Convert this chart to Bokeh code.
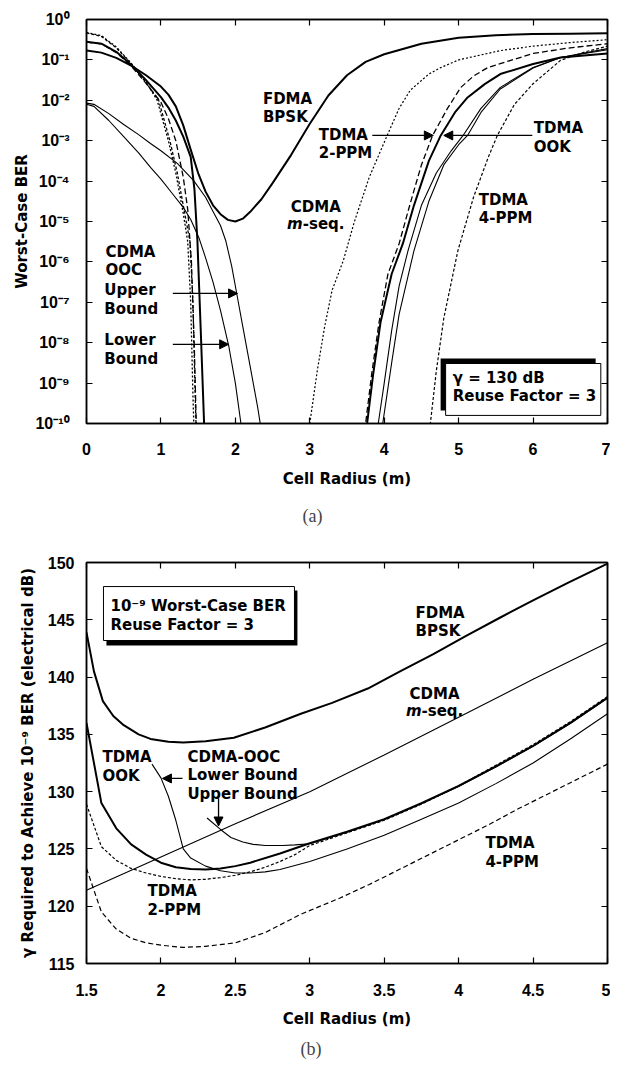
from bokeh.plotting import figure
from bokeh.models import (FixedTicker, CustomJSTickFormatter, LinearAxis, LogAxis,
                          Arrow, NormalHead, Title)
from bokeh.layouts import column
from bokeh.core.properties import value
from bokeh.embed import file_html
from bokeh.resources import INLINE

# ------------------------------------------------------------------ data (a)
a_x_ticks = [0, 1, 2, 3, 4, 5, 6, 7]
a_x_labels = ["0", "1", "2", "3", "4", "5", "6", "7"]
a_y_ticks = [1e0, 1e-1, 1e-2, 1e-3, 1e-4, 1e-5, 1e-6, 1e-7, 1e-8, 1e-9, 1e-10]
a_y_labels = ["10\u2070", "10\u207b\u00b9", "10\u207b\u00b2", "10\u207b\u00b3", "10\u207b\u2074",
              "10\u207b\u2075", "10\u207b\u2076", "10\u207b\u2077", "10\u207b\u2078",
              "10\u207b\u2079", "10\u207b\u00b9\u2070"]

# log10(worst-case BER)
fdma_x = [0, 0.2, 0.4, 0.6, 0.8, 1.0, 1.1, 1.2, 1.3, 1.4, 1.5, 1.6, 1.7, 1.8, 1.9, 2.0, 2.1, 2.2,
          2.35, 2.5, 2.75, 3.0, 3.25, 3.5, 3.75, 4.0, 4.5, 5.0, 5.5, 6.0, 6.5, 7.0]
fdma_e = [-0.77, -0.82, -0.95, -1.14, -1.38, -1.66, -1.86, -2.15, -2.62, -3.22, -3.8, -4.26,
          -4.6, -4.82, -4.96, -5.0, -4.93, -4.76, -4.45, -4.05, -3.35, -2.58, -1.88, -1.38,
          -1.05, -0.86, -0.6, -0.45, -0.39, -0.36, -0.35, -0.34]

ook_l_x = [0, 0.2, 0.4, 0.6, 0.8, 1.0, 1.1, 1.2, 1.3, 1.4, 1.45, 1.49, 1.535, 1.58, 1.6]
ook_l_e = [-0.55, -0.6, -0.8, -1.12, -1.5, -1.92, -2.18, -2.5, -2.9, -3.4, -4.2, -5.47, -7.7, -10.0, -11.0]
ook_r_x = [3.74, 3.77, 3.85, 3.95, 4.1, 4.25, 4.4, 4.6, 4.76, 4.95, 5.12, 5.35, 5.56, 6.0, 6.37, 7.0]
ook_r_e = [-10.4, -10.0, -8.8, -7.5, -6.3, -5.55, -4.6, -3.5, -2.87, -2.3, -1.93, -1.6, -1.35, -1.1, -0.94, -0.84]

ppm2_l_x = [0, 0.2, 0.4, 0.6, 0.8, 1.0, 1.1, 1.2, 1.3, 1.36, 1.41, 1.45, 1.48]
ppm2_l_e = [-0.56, -0.6, -0.82, -1.15, -1.58, -2.05, -2.45, -3.0, -3.9, -4.7, -6.0, -8.2, -10.4]
ppm2_r_x = [3.72, 3.75, 3.83, 3.93, 4.05, 4.2, 4.35, 4.5, 4.65, 4.85, 5.03, 5.2, 5.39, 6.0, 6.5, 7.0]
ppm2_r_e = [-10.4, -10.0, -8.8, -7.5, -6.3, -5.55, -4.55, -3.6, -2.87, -2.2, -1.68, -1.4, -1.19, -0.84, -0.7, -0.6]

mseq_l_x = [0, 0.2, 0.4, 0.6, 0.8, 0.95, 1.1, 1.2, 1.3, 1.36, 1.4, 1.43, 1.45]
mseq_l_e = [-0.32, -0.4, -0.68, -1.08, -1.55, -2.0, -3.0, -3.8, -4.8, -5.5, -7.0, -9.3, -10.5]
mseq_r_x = [2.97, 3.0, 3.1, 3.2, 3.3, 3.45, 3.6, 3.8, 4.04, 4.2, 4.35, 4.6, 4.76, 5.0, 5.56, 6.0, 6.5, 7.0]
mseq_r_e = [-10.4, -10.0, -8.7, -7.6, -6.7, -5.97, -5.0, -3.9, -2.87, -2.2, -1.75, -1.35, -1.19,
            -1.0, -0.77, -0.66, -0.57, -0.5]

ppm4_l_x = [0, 0.2, 0.4, 0.6, 0.8, 0.97, 1.12, 1.22, 1.32, 1.39, 1.43, 1.46, 1.48]
ppm4_l_e = [-0.33, -0.42, -0.7, -1.1, -1.56, -2.0, -3.0, -3.8, -4.8, -5.5, -7.0, -9.3, -10.5]
ppm4_r_x = [4.59, 4.62, 4.7, 4.8, 4.99, 5.2, 5.4, 5.52, 5.75, 6.0, 6.37, 6.7, 7.0]
ppm4_r_e = [-10.4, -10.0, -8.7, -7.4, -5.72, -4.4, -3.4, -2.87, -2.1, -1.59, -1.01, -0.8, -0.66]

oocu_l_x = [0, 0.1, 0.3, 0.5, 0.7, 0.86, 1.0, 1.22, 1.44, 1.6, 1.7, 1.8, 1.87, 1.95, 2.03, 2.1,
            2.2, 2.3, 2.36]
oocu_l_e = [-2.07, -2.1, -2.33, -2.6, -2.85, -3.07, -3.25, -3.56, -3.99, -4.4, -4.75, -5.1,
            -5.47, -6.1, -6.9, -7.6, -8.6, -9.6, -10.3]
oocu_r_x = [3.96, 3.98, 4.1, 4.2, 4.4, 4.6, 4.8, 5.0, 5.12, 5.3, 5.56, 6.0, 6.37, 7.0]
oocu_r_e = [-10.3, -10.0, -8.5, -7.3, -5.72, -4.5, -3.6, -3.1, -2.87, -2.3, -1.72, -1.2, -0.94, -0.72]

oocl_l_x = [0, 0.1, 0.3, 0.5, 0.7, 0.86, 1.0, 1.15, 1.3, 1.4, 1.51, 1.6, 1.7, 1.8, 1.91, 2.0, 2.09]
oocl_l_e = [-2.1, -2.15, -2.5, -2.9, -3.3, -3.66, -3.95, -4.3, -4.65, -4.95, -5.4, -5.9, -6.5,
            -7.2, -8.07, -9.0, -10.2]
oocl_r_x = [3.9, 3.92, 4.0, 4.1, 4.2, 4.32, 4.5, 4.7, 4.9, 5.06, 5.3, 5.56, 6.0, 6.37, 7.0]
oocl_r_e = [-10.3, -10.0, -9.0, -7.7, -6.6, -5.72, -4.6, -3.8, -3.25, -2.87, -2.2, -1.68, -1.19, -0.94, -0.75]

# ------------------------------------------------------------------ data (b)
b_x_ticks = [1.5, 2, 2.5, 3, 3.5, 4, 4.5, 5]
b_x_labels = ["1.5", "2", "2.5", "3", "3.5", "4", "4.5", "5"]
b_y_ticks = [115, 120, 125, 130, 135, 140, 145, 150]
b_y_labels = ["115", "120", "125", "130", "135", "140", "145", "150"]

bf_x = [1.5, 1.55, 1.61, 1.68, 1.75, 1.85, 1.93, 2.05, 2.15, 2.3, 2.49, 2.7, 2.94, 3.15, 3.39,
        3.6, 3.83, 4.05, 4.28, 4.5, 4.73, 5.0]
bf_y = [143.9, 140.5, 137.9, 136.6, 135.8, 135.0, 134.6, 134.35, 134.3, 134.4, 134.7, 135.6,
        136.8, 137.75, 139.0, 140.45, 142.0, 143.6, 145.2, 146.7, 148.2, 149.9]

bm_x = [1.5, 2.0, 2.5, 3.0, 3.5, 4.0, 4.5, 5.0]
bm_y = [121.4, 124.3, 127.2, 130.0, 133.2, 136.5, 139.8, 143.0]

bo_x = [1.5, 1.6, 1.7, 1.8, 1.9, 2.0, 2.1, 2.2, 2.3, 2.4, 2.5, 2.6, 2.8, 3.0, 3.25, 3.5, 3.75,
        4.0, 4.25, 4.5, 4.75, 5.0]
bo_y = [136.0, 129.0, 126.8, 125.4, 124.5, 123.8, 123.4, 123.25, 123.2, 123.3, 123.5, 123.8,
        124.6, 125.5, 126.5, 127.6, 129.0, 130.5, 132.2, 134.0, 136.0, 138.2]

b2_x = [1.5, 1.6, 1.7, 1.8, 1.9, 2.0, 2.1, 2.2, 2.3, 2.4, 2.5, 2.6, 2.7, 2.8, 2.9, 3.0, 3.25,
        3.5, 3.75, 4.0, 4.25, 4.5, 4.75, 5.0]
b2_y = [128.9, 125.2, 124.0, 123.3, 122.9, 122.6, 122.4, 122.3, 122.35, 122.5, 122.7, 123.0,
        123.4, 123.9, 124.5, 125.3, 126.4, 127.5, 128.9, 130.5, 132.3, 134.1, 136.1, 138.3]

b4_x = [1.5, 1.6, 1.7, 1.8, 1.9, 2.0, 2.15, 2.3, 2.5, 2.7, 2.94, 3.2, 3.4, 3.6, 3.8, 4.0, 4.2,
        4.4, 4.6, 4.8, 5.0]
b4_y = [123.3, 119.5, 118.0, 117.2, 116.8, 116.6, 116.4, 116.5, 116.8, 117.7, 119.3, 120.7,
        121.9, 123.2, 124.5, 125.8, 127.1, 128.5, 129.8, 131.1, 132.4]

bl_x = [1.94, 2.0, 2.05, 2.1, 2.15, 2.2, 2.3, 2.4, 2.5, 2.6, 2.7, 2.8, 3.0, 3.25, 3.5, 3.75,
        4.0, 4.25, 4.5, 4.75, 5.0]
bl_y = [132.4, 131.2, 129.6, 127.5, 125.0, 124.2, 123.5, 123.1, 122.9, 122.9, 123.0, 123.2,
        123.9, 125.0, 126.2, 127.6, 129.0, 130.7, 132.5, 134.6, 136.8]

bu_x = [2.31, 2.4, 2.47, 2.55, 2.62, 2.7, 2.82, 2.9, 3.0, 3.25, 3.5, 3.75, 4.0, 4.25, 4.5, 4.75, 5.0]
bu_y = [127.7, 126.7, 126.0, 125.6, 125.4, 125.3, 125.3, 125.35, 125.45, 126.45, 127.55, 128.95,
        130.45, 132.15, 133.95, 135.95, 138.15]

# ------------------------------------------------------------------ helpers
TXT = value("DejaVu Sans")


def fmt(tick_vals, tick_labels):
    return CustomJSTickFormatter(args=dict(tvals=tick_vals, tlabels=tick_labels), code="""
        for (let i = 0; i < tvals.length; i++) {
            const t = tvals[i];
            if (Math.abs(tick - t) <= Math.abs(t) * 1e-6 + 1e-300) return tlabels[i];
        }
        return "";
    """)


def style_axis(ax, ticks, labels, standoff):
    ax.ticker = FixedTicker(ticks=ticks)
    ax.formatter = fmt(ticks, labels)
    ax.major_tick_in = 6
    ax.major_tick_out = 0
    ax.minor_tick_line_color = None
    ax.axis_line_width = 1.5
    ax.major_tick_line_width = 1.2
    ax.major_label_text_font = "Liberation Sans"
    ax.major_label_text_font_style = "bold"
    ax.major_label_text_font_size = "16px"
    ax.major_label_text_color = "black"
    ax.major_label_standoff = standoff
    ax.axis_label_text_font = "DejaVu Sans"
    ax.axis_label_text_font_style = "bold"
    ax.axis_label_text_font_size = "15px"
    ax.axis_label_text_color = "black"


def blank_axis(cls, ticks):
    return cls(ticker=FixedTicker(ticks=ticks),
               formatter=CustomJSTickFormatter(code="return '';"),
               major_label_text_font_size="0px", major_label_standoff=0,
               major_tick_in=6, major_tick_out=0, minor_tick_line_color=None,
               axis_line_width=1.5, major_tick_line_width=1.2)


def base_fig(**kw):
    p = figure(output_backend="svg", toolbar_location=None, **kw)
    p.xgrid.visible = False
    p.ygrid.visible = False
    p.outline_line_color = "black"
    p.outline_line_width = 1.5
    p.background_fill_color = "white"
    p.border_fill_color = "white"
    return p


def label(p, x, y, txt, align="left", **kw):
    p.text(x=[x], y=[y], text=[txt], text_font=TXT, text_font_style=kw.pop("style", "bold"),
           text_font_size="15px", text_align=align, text_baseline="top",
           text_line_height=1.05, text_color="black", **kw)


def arrow(p, x0, y0, x1, y1):
    p.add_layout(Arrow(end=NormalHead(size=9, fill_color="black", line_color="black", line_width=1),
                       x_start=x0, y_start=y0, x_end=x1, y_end=y1,
                       line_color="black", line_width=1.3))


# ------------------------------------------------------------------ figure (a)
pa = base_fig(width=610, height=539, x_range=(0, 7), y_range=(1e-10, 1), y_axis_type="log",
              min_border_left=86, min_border_right=3, min_border_top=19, min_border_bottom=116)
style_axis(pa.xaxis[0], a_x_ticks, a_x_labels, 19)
style_axis(pa.yaxis[0], a_y_ticks, a_y_labels, 17)
pa.xaxis[0].axis_label = "Cell Radius (m)"
pa.xaxis[0].axis_label_standoff = 12
pa.yaxis[0].axis_label = "Worst-Case BER"
pa.yaxis[0].axis_label_standoff = 1
pa.add_layout(blank_axis(LinearAxis, a_x_ticks), "above")
pa.add_layout(blank_axis(LogAxis, a_y_ticks), "right")


def ber(es):
    return [10 ** e for e in es]


thin = 1.1
thick = 2.0
pa.line(fdma_x, ber(fdma_e), line_color="black", line_width=thick)
pa.line(ook_l_x, ber(ook_l_e), line_color="black", line_width=thick)
pa.line(ook_r_x, ber(ook_r_e), line_color="black", line_width=thick)
pa.line(ppm2_l_x, ber(ppm2_l_e), line_color="black", line_width=1.3, line_dash="6 3")
pa.line(ppm2_r_x, ber(ppm2_r_e), line_color="black", line_width=1.3, line_dash="6 3")
pa.line(mseq_l_x, ber(mseq_l_e), line_color="black", line_width=1.3, line_dash="2 2")
pa.line(mseq_r_x, ber(mseq_r_e), line_color="black", line_width=1.2, line_dash="2 2")
pa.line(ppm4_l_x, ber(ppm4_l_e), line_color="black", line_width=1.3, line_dash="3 2")
pa.line(ppm4_r_x, ber(ppm4_r_e), line_color="black", line_width=1.2, line_dash="3 2")
pa.line(oocu_l_x, ber(oocu_l_e), line_color="black", line_width=thin)
pa.line(oocu_r_x, ber(oocu_r_e), line_color="black", line_width=thin)
pa.line(oocl_l_x, ber(oocl_l_e), line_color="black", line_width=thin)
pa.line(oocl_r_x, ber(oocl_r_e), line_color="black", line_width=thin)

# annotations (a)
label(pa, 2.37, 10 ** -1.733, "FDMA\nBPSK")
label(pa, 3.12, 10 ** -2.624, "TDMA\n2-PPM")
label(pa, 6.01, 10 ** -2.475, "TDMA\nOOK")
label(pa, 3.08, 10 ** -4.406, "CDMA", align="center")
label(pa, 3.08, 10 ** -4.406, "m", align="right", style="bold italic", x_offset=-13, y_offset=17)
label(pa, 3.08, 10 ** -4.406, "-seq.", align="left", x_offset=-13, y_offset=17)
label(pa, 5.27, 10 ** -4.233, "TDMA\n4-PPM")
label(pa, 0.255, 10 ** -5.52, "CDMA\nOOC")
label(pa, 0.24, 10 ** -6.485, "Upper\nBound")
label(pa, 0.24, 10 ** -7.72, "Lower\nBound")
arrow(pa, 3.84, 10 ** -2.87, 4.66, 10 ** -2.87)
arrow(pa, 5.99, 10 ** -2.87, 4.80, 10 ** -2.87)
arrow(pa, 1.16, 10 ** -6.78, 2.03, 10 ** -6.78)
arrow(pa, 1.16, 10 ** -8.04, 1.91, 10 ** -8.04)
pa.quad(left=[4.758], right=[6.841], top=[10 ** -8.391], bottom=[10 ** -9.678],
        fill_color="black", line_color=None)
pa.quad(left=[4.825], right=[6.91], top=[10 ** -8.515], bottom=[10 ** -9.80],
        fill_color="white", line_color="black", line_width=1)
label(pa, 4.92, 10 ** -8.639, "\u03b3 = 130 dB\nReuse Factor = 3")
pa.add_layout(Title(text="(a)", text_font="Liberation Serif", text_font_size="18px",
                    text_font_style="normal", align="left", offset=216, standoff=27), "below")

# ------------------------------------------------------------------ figure (b)
pb = base_fig(width=610, height=526, x_range=(1.5, 5), y_range=(115, 150),
              min_border_left=86, min_border_right=3, min_border_top=23, min_border_bottom=102)
style_axis(pb.xaxis[0], b_x_ticks, b_x_labels, 20)
style_axis(pb.yaxis[0], b_y_ticks, b_y_labels, 12)
pb.xaxis[0].axis_label = "Cell Radius (m)"
pb.xaxis[0].axis_label_standoff = 11
pb.yaxis[0].axis_label = "\u03b3 Required to Achieve 10\u207b\u2079 BER (electrical dB)"
pb.yaxis[0].axis_label_standoff = 8
pb.add_layout(blank_axis(LinearAxis, b_x_ticks), "above")
pb.add_layout(blank_axis(LinearAxis, b_y_ticks), "right")

pb.line(bf_x, bf_y, line_color="black", line_width=thick)
pb.line(bm_x, bm_y, line_color="black", line_width=thin)
pb.line(bl_x, bl_y, line_color="black", line_width=thin)
pb.line(bu_x, bu_y, line_color="black", line_width=thin)
pb.line(bo_x, bo_y, line_color="black", line_width=thick)
pb.line(b2_x, b2_y, line_color="black", line_width=1.2, line_dash="3 2")
pb.line(b4_x, b4_y, line_color="black", line_width=1.2, line_dash="5 3")

pb.quad(left=[1.634], right=[2.917], top=[147.56], bottom=[142.76],
        fill_color="black", line_color=None)
pb.quad(left=[1.614], right=[2.897], top=[147.9], bottom=[143.19],
        fill_color="white", line_color="black", line_width=1)
label(pb, 1.661, 146.95, "10\u207b\u2079 Worst-Case BER\nReuse Factor = 3")
label(pb, 3.71, 146.42, "FDMA\nBPSK")
label(pb, 3.838, 139.35, "CDMA", align="center")
label(pb, 3.838, 139.35, "m", align="right", style="bold italic", x_offset=-13, y_offset=17)
label(pb, 3.838, 139.35, "-seq.", align="left", x_offset=-13, y_offset=17)
label(pb, 4.18, 126.26, "TDMA\n4-PPM")
label(pb, 1.607, 133.77, "TDMA\nOOK")
label(pb, 2.178, 133.85, "CDMA-OOC\nLower Bound\nUpper Bound")
label(pb, 1.91, 122.07, "TDMA\n2-PPM")
arrow(pb, 2.145, 131.15, 2.01, 131.15)
arrow(pb, 2.387, 129.4, 2.387, 127.0)
pb.add_layout(Title(text="(b)", text_font="Liberation Serif", text_font_size="18px",
                    text_font_style="normal", align="left", offset=214, standoff=12), "below")

layout = column(pa, pb)
open("out.html", "w").write(file_html(layout, INLINE))
